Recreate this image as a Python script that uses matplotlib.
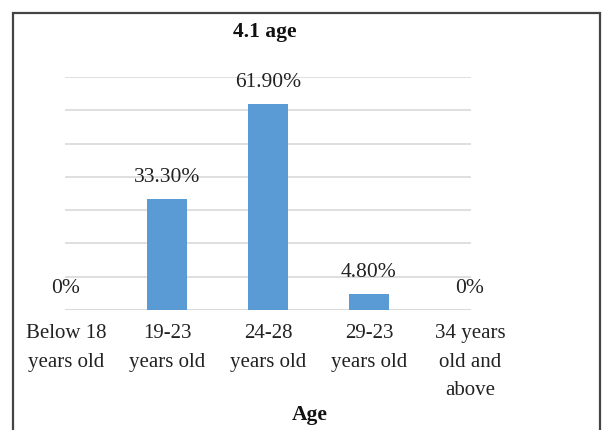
import matplotlib
matplotlib.use("Agg")
import matplotlib.pyplot as plt
from matplotlib.patches import Rectangle

categories = ["Below 18\nyears old", "19-23\nyears old", "24-28\nyears old",
              "29-23\nyears old", "34 years\nold and\nabove"]
values = [0, 33.3, 61.9, 4.8, 0]
labels = ["0%", "33.30%", "61.90%", "4.80%", "0%"]
title = "4.1 age"
xlabel = "Age"

serif = ["Liberation Serif", "DejaVu Serif"]

fig = plt.figure(figsize=(6.02, 4.31), dpi=100)
fig.patch.set_facecolor("white")

# outer chart frame
fig.add_artist(Rectangle((13 / 602, -0.05), 587 / 602, 1 - 14 / 431 + 0.05,
                         transform=fig.transFigure, fill=False,
                         edgecolor="#444444", linewidth=1.6))

ax = fig.add_axes([65 / 602, 1 - 311 / 431, 406 / 602, 233 / 431])
x = list(range(len(categories)))
ax.bar(x, values, width=0.4, color="#5B9BD5", zorder=3)

ax.set_xlim(-0.01, 4.01)
ax.set_ylim(0, 70)
ax.set_yticks(range(0, 71, 10))
ax.yaxis.grid(True, color="#D9D9D9", linewidth=1.2, zorder=0)
ax.tick_params(axis="y", left=False, labelleft=False)
ax.tick_params(axis="x", bottom=False, pad=6)
for s in ax.spines.values():
    s.set_visible(False)
ax.axhline(0, color="#D9D9D9", linewidth=1.2, zorder=1)

ax.set_xticks(x)
ax.set_xticklabels(categories, fontfamily=serif, fontsize=15, linespacing=1.68,
                   color="#222222")

for xi, v, lab in zip(x, values, labels):
    ax.text(xi, v + 4.0, lab, ha="center", va="bottom", fontfamily=serif,
            fontsize=15.5, color="#222222")

fig.text(265 / 602, 1 - 32 / 431, title, ha="center", va="center",
         fontfamily=serif, fontsize=15.5, fontweight="bold", color="#111111")
fig.text(310 / 602, 1 - 415 / 431, xlabel, ha="center", va="center",
         fontfamily=serif, fontsize=15.5, fontweight="bold", color="#111111")

fig.savefig("out.png", dpi=100)
